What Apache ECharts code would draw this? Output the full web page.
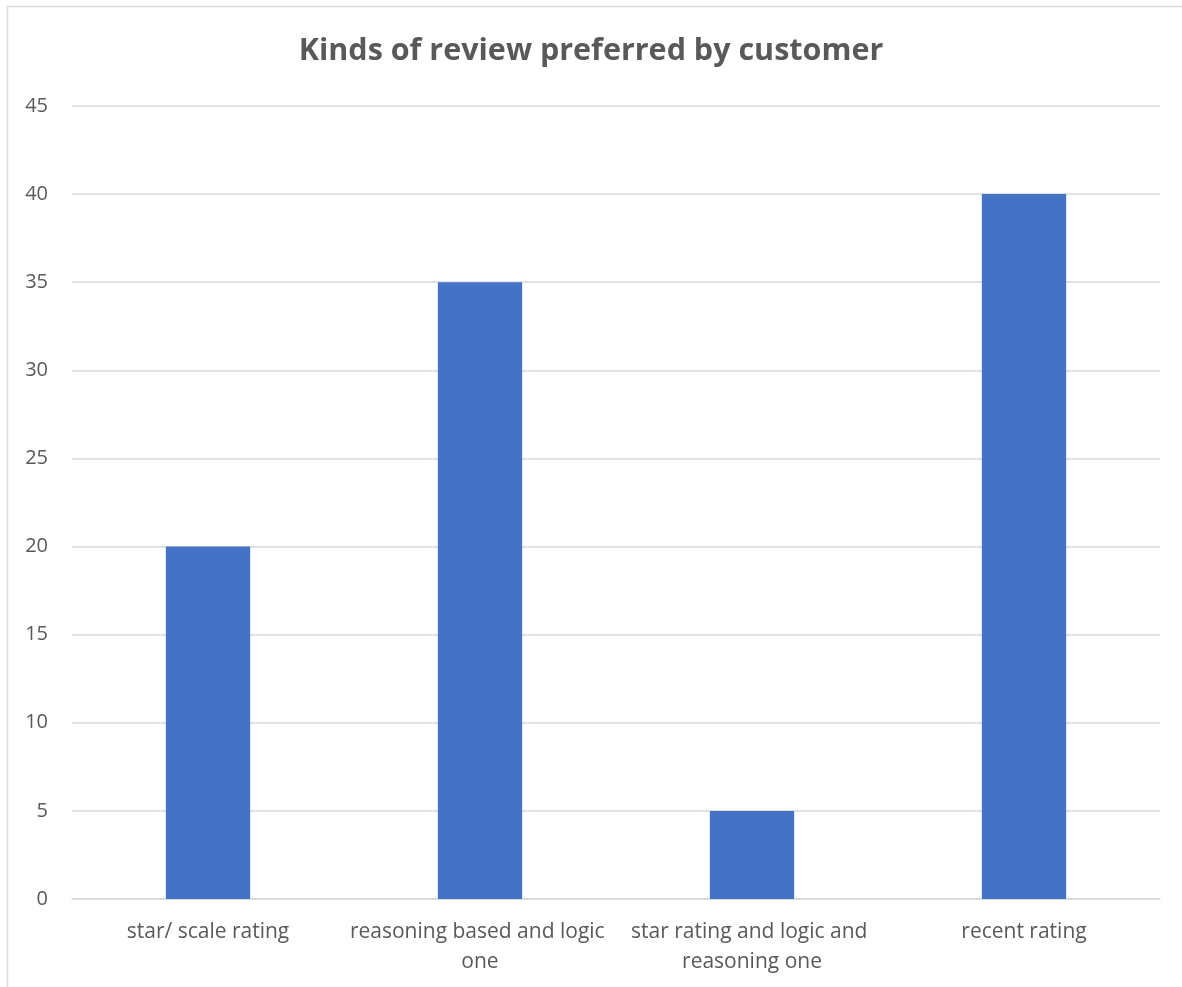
<!DOCTYPE html>
<html>
<head>
<meta charset="utf-8">
<script src="https://cdn.jsdelivr.net/npm/echarts@6/dist/echarts.min.js"></script>
<style>html,body{margin:0;padding:0;background:#fff}#c{width:1182px;height:987px}</style>
</head>
<body>
<div id="c"></div>
<script>
const titleText = 'Kinds of review preferred by customer';
const categories = ['star/ scale rating', 'reasoning based and logic one', 'star rating and logic and reasoning one', 'recent rating'];
const values = [20, 35, 5, 40];
const yTicks = { min: 0, max: 45, interval: 5 };

const chart = echarts.init(document.getElementById('c'));
chart.setOption({
  animation: false,
  backgroundColor: '#ffffff',
  textStyle: { fontFamily: 'Open Sans' },
  title: {
    text: titleText,
    left: 'center',
    top: 31,
    textStyle: { fontFamily: 'Open Sans', fontWeight: 'bold', fontSize: 30.5, color: '#595959' }
  },
  graphic: [{
    type: 'rect', silent: true,
    shape: { x: 7.5, y: 6.5, width: 1200, height: 1000 },
    style: { fill: 'none', stroke: '#d9d9d9', lineWidth: 1.5 }
  }],
  grid: { left: 72, right: 22, top: 106, bottom: 88 },
  xAxis: {
    type: 'category',
    data: categories,
    axisLine: { lineStyle: { color: '#d9d9d9', width: 1.5 } },
    axisTick: { show: false },
    axisLabel: {
      color: '#595959', fontSize: 21, margin: 18, lineHeight: 30,
      width: 268, overflow: 'break', interval: 0
    }
  },
  yAxis: {
    type: 'value',
    min: yTicks.min, max: yTicks.max, interval: yTicks.interval,
    axisLine: { show: false },
    axisTick: { show: false },
    splitLine: { lineStyle: { color: '#d9d9d9', width: 1.5 } },
    axisLabel: { color: '#595959', fontSize: 20, margin: 24 }
  },
  series: [{
    type: 'bar',
    data: values,
    barWidth: '31%',
    itemStyle: { color: '#4472C4' }
  }]
});
</script>
</body>
</html>
